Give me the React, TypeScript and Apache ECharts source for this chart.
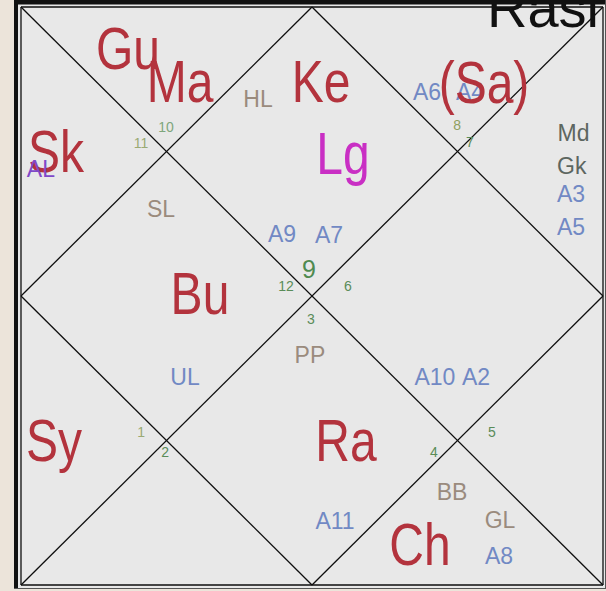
import React, { useEffect, useRef } from "react";
import * as echarts from "echarts";

// North-Indian chart lines, in house units (square 0..4 × 0..4)
const HOUSE_SEGMENTS: number[][] = [
  [0, 0, 4, 0], [4, 0, 4, 4], [4, 4, 0, 4], [0, 4, 0, 0],
  [0, 0, 4, 4], [4, 0, 0, 4],
  [2, 0, 4, 2], [4, 2, 2, 4], [2, 4, 0, 2], [0, 2, 2, 0],
];

const TITLE = ["Rasi"];
const TITLE_X = [3.588];
const TITLE_Y = [0.004];
const TITLE_KIND = ["title"];

const PLANET_NAMES = ["Gu", "Ma", "Ke", "(Sa)", "Lg", "Sk", "Bu", "Sy", "Ra", "Ch"];
const PLANET_X = [0.735, 1.093, 2.062, 3.182, 2.213, 0.241, 1.23, 0.227, 2.234, 2.742];
const PLANET_Y = [0.287, 0.516, 0.519, 0.522, 1.014, 1.0, 1.983, 3.0, 3.0, 3.72];
const PLANET_KIND = ["graha", "graha", "graha", "graha", "lagna", "graha", "graha", "graha", "graha", "graha"];

const TAG_NAMES = ["HL", "SL", "A9", "A7", "A6", "A4", "Md", "Gk", "A3", "A5", "UL", "PP", "A10", "A2", "BB", "GL", "A8", "A11"];
const TAG_X = [1.629, 0.962, 1.794, 2.117, 2.79, 3.086, 3.797, 3.785, 3.78, 3.78, 1.127, 1.986, 2.845, 3.127, 2.962, 3.292, 3.285, 2.158];
const TAG_Y = [0.637, 1.398, 1.571, 1.578, 0.588, 0.588, 0.872, 1.1, 1.294, 1.522, 2.561, 2.408, 2.561, 2.561, 3.356, 3.55, 3.799, 3.557];
const TAG_KIND = ["special", "special", "arudha", "arudha", "arudha", "arudha", "upagraha", "upagraha", "arudha", "arudha", "arudha", "special", "arudha", "arudha", "special", "special", "arudha", "arudha"];

const TOP_TAG_NAMES = ["AL"];
const TOP_TAG_X = [0.137];
const TOP_TAG_Y = [1.121];
const TOP_TAG_KIND = ["arudhaLagna"];

const HOUSE_NUMBERS = ["10", "11", "9", "12", "6", "3", "8", "7", "1", "2", "5", "4"];
const HOUSE_NUM_X = [0.997, 0.825, 1.979, 1.821, 2.247, 1.993, 2.997, 3.086, 0.825, 0.99, 3.237, 2.838];
const HOUSE_NUM_Y = [0.83, 0.941, 1.813, 1.931, 1.931, 2.159, 0.817, 0.934, 2.941, 3.08, 2.941, 3.08];
const HOUSE_NUM_KIND = ["numLight", "numPale", "lagnaNum", "num", "num", "num", "numOlive", "num", "numPale", "num", "num", "num"];

const FONT = '"Liberation Sans", Arial, sans-serif';

const STYLE: Record<string, { size: number; color: string; scaleX?: number }> = {
  title: { size: 56, color: "#111111" },
  graha: { size: 60, color: "#b3333d", scaleX: 0.8 },
  lagna: { size: 60, color: "#c92fc4", scaleX: 0.8 },
  special: { size: 23, color: "#9a8b7d" },
  arudha: { size: 23, color: "#7189c4" },
  arudhaLagna: { size: 23, color: "#8048c8" },
  upagraha: { size: 23, color: "#5d6660" },
  num: { size: 14, color: "#5a8c58" },
  numLight: { size: 14, color: "#7ea67c" },
  numPale: { size: 14, color: "#9aaa74" },
  numOlive: { size: 14, color: "#8fa05e" },
  lagnaNum: { size: 25, color: "#4f8a50" },
};

function textSeries(names: string[], xs: number[], ys: number[], kinds: string[], z: number) {
  return {
    type: "custom",
    coordinateSystem: "cartesian2d",
    clip: false,
    silent: true,
    z,
    encode: { x: 0, y: 1 },
    data: xs.map((x, i) => [x, ys[i], i]),
    renderItem: (params: any, api: any) => {
      const i = params.dataIndex;
      const p = api.coord([api.value(0), api.value(1)]);
      const st = STYLE[kinds[i]];
      return {
        type: "text",
        x: p[0],
        y: p[1],
        scaleX: st.scaleX ?? 1,
        style: {
          text: names[i],
          fill: st.color,
          fontSize: st.size,
          fontFamily: FONT,
          align: "center",
          verticalAlign: "middle",
        },
      };
    },
  };
}

export default function App() {
  const ref = useRef<HTMLDivElement>(null);
  useEffect(() => {
    if (!ref.current) return;
    const chart = echarts.init(ref.current, null, { renderer: "svg" });
    chart.setOption({
      animation: false,
      backgroundColor: "#ece4da",
      grid: { left: 21, top: 7, width: 582, height: 578, show: false },
      xAxis: { type: "value", min: 0, max: 4, show: false },
      yAxis: { type: "value", min: 0, max: 4, inverse: true, show: false },
      graphic: [
        { type: "rect", z: -10, shape: { x: 14, y: 0, width: 592, height: 589 }, style: { fill: "#e8e8e8" } },
        { type: "rect", z: 100, shape: { x: 14, y: 0, width: 4, height: 589 }, style: { fill: "#111" } },
        { type: "rect", z: 100, shape: { x: 14, y: 0, width: 592, height: 4.5 }, style: { fill: "#111" } },
        { type: "line", z: 100, shape: { x1: 14, y1: 588.5, x2: 606, y2: 588.5 }, style: { stroke: "#555", lineWidth: 1 } },
        { type: "line", z: 100, shape: { x1: 605.5, y1: 0, x2: 605.5, y2: 589 }, style: { stroke: "#555", lineWidth: 1 } },
      ],
      series: [
        {
          type: "custom",
          coordinateSystem: "cartesian2d",
          silent: true,
          clip: false,
          z: 2,
          encode: { x: [0, 2], y: [1, 3] },
          data: HOUSE_SEGMENTS,
          renderItem: (params: any, api: any) => {
            const a = api.coord([api.value(0), api.value(1)]);
            const b = api.coord([api.value(2), api.value(3)]);
            return {
              type: "line",
              shape: { x1: a[0], y1: a[1], x2: b[0], y2: b[1] },
              style: { stroke: "#0e0e0e", lineWidth: 1.3 },
            };
          },
        },
        textSeries(TITLE, TITLE_X, TITLE_Y, TITLE_KIND, 3),
        textSeries(TAG_NAMES, TAG_X, TAG_Y, TAG_KIND, 4),
        textSeries(HOUSE_NUMBERS, HOUSE_NUM_X, HOUSE_NUM_Y, HOUSE_NUM_KIND, 4),
        textSeries(PLANET_NAMES, PLANET_X, PLANET_Y, PLANET_KIND, 5),
        textSeries(TOP_TAG_NAMES, TOP_TAG_X, TOP_TAG_Y, TOP_TAG_KIND, 6),
      ],
    });
    return () => chart.dispose();
  }, []);
  return (
    <div
      ref={ref}
      style={{ position: "absolute", left: 0, top: 0, width: 606, height: 591 }}
    />
  );
}
